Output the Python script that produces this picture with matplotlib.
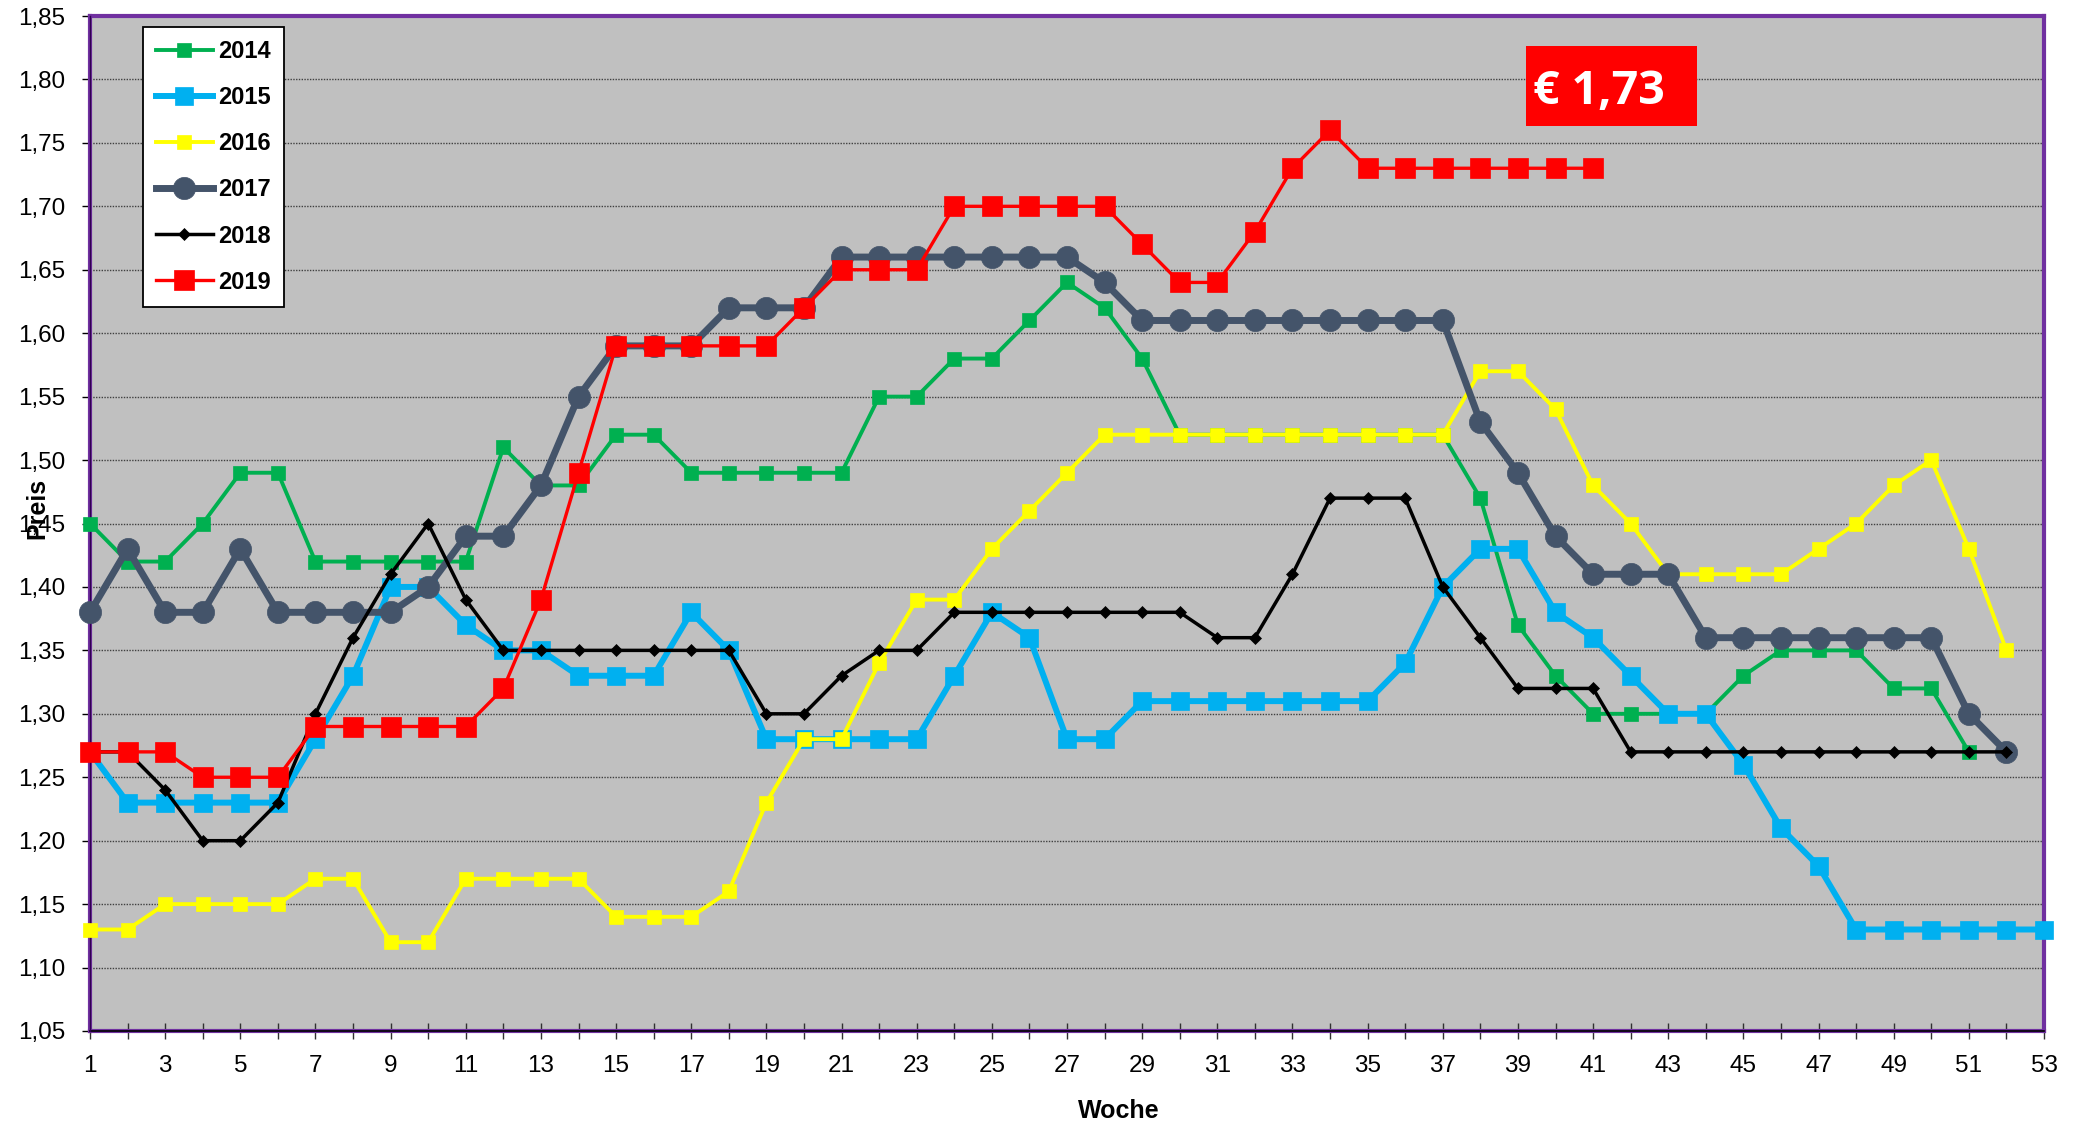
import matplotlib
matplotlib.use("Agg")
import matplotlib.pyplot as plt
from matplotlib.ticker import FuncFormatter, MultipleLocator, FixedLocator
from matplotlib.patches import Rectangle

plt.rcParams['font.family'] = ['Liberation Sans', 'DejaVu Sans']

# ---------------- data ----------------
weeks_max = 53
y2014 = [1.45, 1.42, 1.42, 1.45, 1.49, 1.49, 1.42, 1.42, 1.42, 1.42, 1.42, 1.51, 1.48, 1.48,
         1.52, 1.52, 1.49, 1.49, 1.49, 1.49, 1.49, 1.55, 1.55, 1.58, 1.58, 1.61, 1.64, 1.62,
         1.58, 1.52, 1.52, 1.52, 1.52, 1.52, 1.52, 1.52, 1.52, 1.47, 1.37, 1.33, 1.30, 1.30,
         1.30, 1.30, 1.33, 1.35, 1.35, 1.35, 1.32, 1.32, 1.27]
y2015 = [1.27, 1.23, 1.23, 1.23, 1.23, 1.23, 1.28, 1.33, 1.40, 1.40, 1.37, 1.35, 1.35, 1.33,
         1.33, 1.33, 1.38, 1.35, 1.28, 1.28, 1.28, 1.28, 1.28, 1.33, 1.38, 1.36, 1.28, 1.28,
         1.31, 1.31, 1.31, 1.31, 1.31, 1.31, 1.31, 1.34, 1.40, 1.43, 1.43, 1.38, 1.36, 1.33,
         1.30, 1.30, 1.26, 1.21, 1.18, 1.13, 1.13, 1.13, 1.13, 1.13, 1.13]
y2016 = [1.13, 1.13, 1.15, 1.15, 1.15, 1.15, 1.17, 1.17, 1.12, 1.12, 1.17, 1.17, 1.17, 1.17,
         1.14, 1.14, 1.14, 1.16, 1.23, 1.28, 1.28, 1.34, 1.39, 1.39, 1.43, 1.46, 1.49, 1.52,
         1.52, 1.52, 1.52, 1.52, 1.52, 1.52, 1.52, 1.52, 1.52, 1.57, 1.57, 1.54, 1.48, 1.45,
         1.41, 1.41, 1.41, 1.41, 1.43, 1.45, 1.48, 1.50, 1.43, 1.35]
y2017 = [1.38, 1.43, 1.38, 1.38, 1.43, 1.38, 1.38, 1.38, 1.38, 1.40, 1.44, 1.44, 1.48, 1.55,
         1.59, 1.59, 1.59, 1.62, 1.62, 1.62, 1.66, 1.66, 1.66, 1.66, 1.66, 1.66, 1.66, 1.64,
         1.61, 1.61, 1.61, 1.61, 1.61, 1.61, 1.61, 1.61, 1.61, 1.53, 1.49, 1.44, 1.41, 1.41,
         1.41, 1.36, 1.36, 1.36, 1.36, 1.36, 1.36, 1.36, 1.30, 1.27]
y2018 = [1.27, 1.27, 1.24, 1.20, 1.20, 1.23, 1.30, 1.36, 1.41, 1.45, 1.39, 1.35, 1.35, 1.35,
         1.35, 1.35, 1.35, 1.35, 1.30, 1.30, 1.33, 1.35, 1.35, 1.38, 1.38, 1.38, 1.38, 1.38,
         1.38, 1.38, 1.36, 1.36, 1.41, 1.47, 1.47, 1.47, 1.40, 1.36, 1.32, 1.32, 1.32, 1.27,
         1.27, 1.27, 1.27, 1.27, 1.27, 1.27, 1.27, 1.27, 1.27, 1.27]
y2019 = [1.27, 1.27, 1.27, 1.25, 1.25, 1.25, 1.29, 1.29, 1.29, 1.29, 1.29, 1.32, 1.39, 1.49,
         1.59, 1.59, 1.59, 1.59, 1.59, 1.62, 1.65, 1.65, 1.65, 1.70, 1.70, 1.70, 1.70, 1.70,
         1.67, 1.64, 1.64, 1.68, 1.73, 1.76, 1.73, 1.73, 1.73, 1.73, 1.73, 1.73, 1.73]
series_labels = ['2014', '2015', '2016', '2017', '2018', '2019']
x_label = 'Woche'
y_label = 'Preis'

# ---------------- figure ----------------
W, H = 2075, 1125
fig = plt.figure(figsize=(W / 100, H / 100), dpi=100)
L, R, T, B = 90, 2044, 16, 1031
ax = fig.add_axes([L / W, (H - B) / H, (R - L) / W, (B - T) / H])
ax.set_facecolor('#C0C0C0')

styles = [
    dict(color='#00B050', lw=2.8, marker='s', ms=9.5),
    dict(color='#00B0F0', lw=4.3, marker='s', ms=13.5),
    dict(color='#FFFF00', lw=2.8, marker='s', ms=9.5),
    dict(color='#44546A', lw=5.0, marker='o', ms=16),
    dict(color='#000000', lw=2.5, marker='D', ms=6.5),
    dict(color='#FF0000', lw=2.4, marker='s', ms=15),
]
all_series = [y2014, y2015, y2016, y2017, y2018, y2019]
for i, (vals, lab, st) in enumerate(zip(all_series, series_labels, styles)):
    xs = list(range(1, len(vals) + 1))
    ax.plot(xs, vals, label=lab, color=st['color'], lw=st['lw'], marker=st['marker'],
            ms=st['ms'], mec=st['color'], mew=0.5, mfc=st['color'],
            zorder=3 + i, clip_on=False)

ax.set_xlim(1, weeks_max)
ax.set_ylim(1.05, 1.85)
ax.yaxis.set_major_locator(MultipleLocator(0.05))
ax.yaxis.set_major_formatter(FuncFormatter(lambda v, p: f"{v:.2f}".replace('.', ',')))
ax.xaxis.set_major_locator(FixedLocator(list(range(1, weeks_max + 1))))
ax.xaxis.set_major_formatter(FuncFormatter(lambda v, p: str(int(round(v))) if int(round(v)) % 2 == 1 else ''))

ax.tick_params(axis='y', direction='out', length=6, width=1, color='black',
               labelsize=17.5, pad=12)
ax.tick_params(axis='x', direction='inout', length=12, width=1, color='#303030',
               labelsize=17.5, pad=11)

ax.grid(axis='y', linestyle=(0, (1, 1)), color='#404040', lw=1.0, zorder=1)
ax.set_axisbelow(True)

for side in ['top', 'right', 'left', 'bottom']:
    ax.spines[side].set_color('#7030A0')
    ax.spines[side].set_linewidth(3)
    ax.spines[side].set_zorder(2)
ax.axhline(1.05, color='black', lw=1.2, zorder=2.5, clip_on=False)
ax.axvline(1, color='#300050', lw=1.0, zorder=2.5, clip_on=False)

leg = ax.legend(loc='upper left', bbox_to_anchor=((143 - L) / (R - L), (B - 27) / (B - T)),
                borderaxespad=0, frameon=True, fancybox=False, framealpha=1,
                edgecolor='black', facecolor='white',
                prop=dict(weight='bold', size=17), handlelength=2.4,
                handletextpad=0.25, labelspacing=0.98, borderpad=0.55)
leg.get_frame().set_linewidth(1.3)
leg.set_zorder(20)

fig.text(37 / W, 1 - 508 / H, y_label, rotation=90, ha='center', va='center',
         fontsize=18, fontweight='bold')
fig.text(1119 / W, 1 - 1111 / H, x_label, ha='center', va='center',
         fontsize=18, fontweight='bold')

# current-price badge
fig.patches.append(Rectangle((1526 / W, 1 - 126 / H), 171 / W, 80 / H,
                             transform=fig.transFigure, facecolor='#FF0000',
                             edgecolor='none', zorder=30))
badge = "€ " + f"{y2019[-1]:.2f}".replace('.', ',')
fig.text(1533 / W, 1 - 91 / H, badge, ha='left', va='center', color='white',
         fontsize=33.5, fontweight='bold', family=['Open Sans', 'DejaVu Sans'], zorder=31)

fig.savefig('out.png', dpi=100, facecolor='white')
